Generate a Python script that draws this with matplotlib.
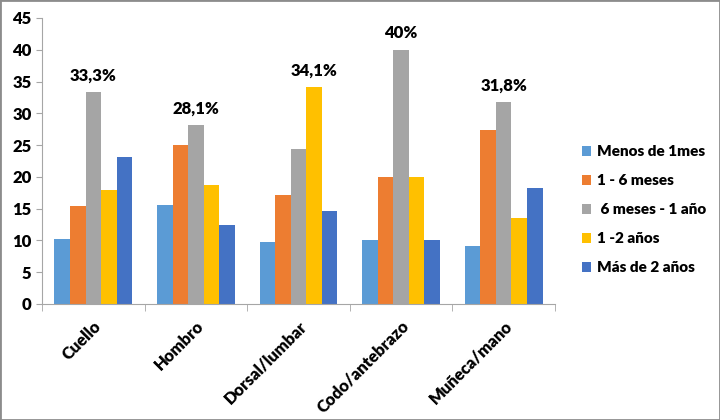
import matplotlib.pyplot as plt
import numpy as np

plt.rcParams['font.family'] = ['Lato', 'DejaVu Sans']
plt.rcParams['font.weight'] = 'bold'

categorias = ["Cuello", "Hombro", "Dorsal/lumbar", "Codo/antebrazo", "Muñeca/mano"]
series = ["Menos de 1mes", "1 - 6 meses", " 6 meses - 1 año", "1 -2 años", "Más de 2 años"]
menos_1mes = [10.3, 15.6, 9.8, 10.0, 9.1]
m1_6 = [15.4, 25.0, 17.1, 20.0, 27.3]
m6_1a = [33.3, 28.1, 24.4, 40.0, 31.8]
a1_2 = [17.9, 18.8, 34.1, 20.0, 13.6]
mas_2 = [23.1, 12.5, 14.6, 10.0, 18.2]
etiquetas = ["33,3%", "28,1%", "34,1%", "40%", "31,8%"]

valores = [menos_1mes, m1_6, m6_1a, a1_2, mas_2]
colores = ["#5B9BD5", "#ED7D31", "#A5A5A5", "#FFC000", "#4472C4"]

fig = plt.figure(figsize=(7.2, 4.2), dpi=100)
ax = fig.add_axes([42/720, 116/420, 513/720, 286/420])

x = np.arange(len(categorias))
w = 0.152
for i, (vals, col, nom) in enumerate(zip(valores, colores, series)):
    ax.bar(x + (i - 2) * w, vals, w, color=col, label=nom)

# etiqueta encima de la barra mas alta de cada grupo
for j in range(len(categorias)):
    grupo = [v[j] for v in valores]
    k = int(np.argmax(grupo))
    ax.text(x[j] + (k - 2) * w, grupo[k] + 2.6, etiquetas[j], ha='center', va='center',
            fontsize=12, fontweight='heavy')

ax.set_ylim(0, 45)
ax.set_yticks(range(0, 46, 5))
ax.set_xlim(-0.5, len(categorias) - 0.5)
ax.set_xticks(x)
ax.set_xticklabels(categorias, rotation=45, ha='right', rotation_mode='anchor',
                   fontsize=12, fontweight='heavy')
ax.set_xticks(np.arange(-0.5, len(categorias)), minor=True)
ax.tick_params(axis='x', which='major', length=0, pad=10)
ax.tick_params(axis='x', which='minor', length=5, color='#A6A6A6')
ax.tick_params(axis='y', length=4, color='#A6A6A6', labelsize=12)
for lab in ax.get_yticklabels():
    lab.set_fontweight('heavy')
for s in ['top', 'right']:
    ax.spines[s].set_visible(False)
ax.spines['left'].set_color('#A6A6A6')
ax.spines['bottom'].set_color('#A6A6A6')

ax.legend(loc='center left', bbox_to_anchor=(1.025, 0.33), frameon=False,
          prop={'size': 11, 'weight': 'heavy'},
          handlelength=0.6, handleheight=0.6, handletextpad=0.4, labelspacing=1.05)

fig.patches.append(plt.Rectangle((0, 0), 1, 1, transform=fig.transFigure, fill=False,
                                 edgecolor='#8C8C8C', linewidth=2))

plt.savefig('out.png')
